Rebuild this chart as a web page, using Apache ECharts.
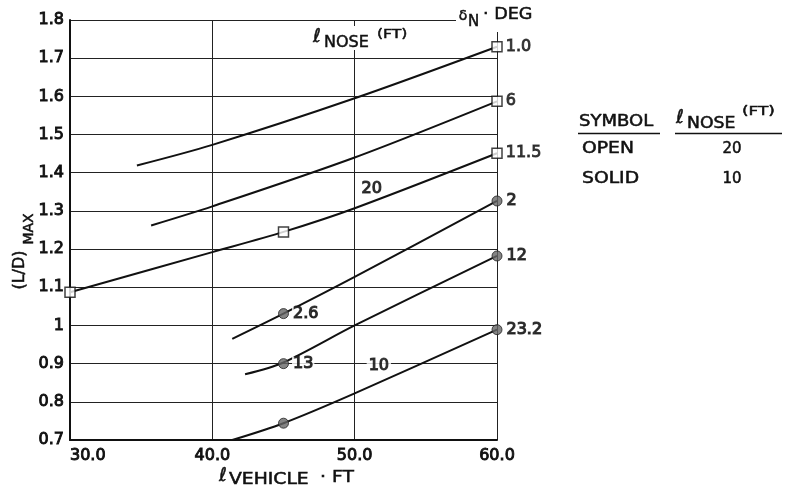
<!DOCTYPE html>
<html>
<head>
<meta charset="utf-8">
<script src="https://cdn.jsdelivr.net/npm/echarts@6.0.0/dist/echarts.min.js"></script>
<style>
  html, body { margin: 0; padding: 0; background: #fff; }
  #chart { width: 791px; height: 493px; }
</style>
</head>
<body>
<div id="chart"></div>
<script>
// (L/D)max versus vehicle length for several nose deflection angles.
// Curves: [vehicle length ft, (L/D)max]
const xTickValues = [30, 40, 50, 60];
const yRange = [0.7, 1.8];

// nose length 20 ft (open symbols)
const curveNose20Delta1 = [[34.7, 1.419], [40, 1.473], [50, 1.595], [60, 1.730]];
const curveNose20Delta6 = [[35.7, 1.262], [40, 1.312], [50, 1.440], [60, 1.587]];
const curveNose20Delta11 = [[30, 1.087], [40, 1.192], [45, 1.245], [50, 1.307], [60, 1.451]];

// nose length 10 ft (solid symbols)
const curveNose10Delta2 = [[41.4, 0.965], [45, 1.031], [50, 1.127], [60, 1.326]];
const curveNose10Delta12 = [[42.3, 0.872], [45, 0.903], [50, 1.000], [60, 1.182]];
const curveNose10Delta23 = [[41.4, 0.700], [45, 0.744], [50, 0.822], [60, 0.989]];

// symbols: [x, y, nose deflection label]
const openPoints = [[60, 1.730, '1.0'], [60, 1.587, '6'], [30, 1.087, ''], [45, 1.245, ''], [60, 1.451, '11.5']];
const solidPoints = [[45, 1.031, '2.6'], [60, 1.326, '2'], [45, 0.900, '13'], [60, 1.182, '12'], [45, 0.744, ''], [60, 0.989, '23.2']];

// nose length group labels placed on the curves
const noseGroupLabels = [[51.2, 1.359, '20'], [51.7, 0.895, '10']];

const INK = '#111';
const FONT = 'DejaVu Sans';
const HEAVY = { textBorderColor: INK, textBorderWidth: 0.9 };

const chart = echarts.init(document.getElementById('chart'), null, { renderer: 'canvas' });

function curve(data) {
  return {
    type: 'line', data: data, smooth: 0.3,
    showSymbol: false, symbol: 'none', silent: true, z: 3,
    lineStyle: { color: INK, width: 2 }
  };
}

function txt(text, x, y, size, align, sx, rot) {
  return {
    type: 'text', x: x, y: y, scaleX: sx || 1, rotation: rot || 0, z: 100,
    style: {
      text: text, font: size + 'px "' + FONT + '"', fill: INK,
      stroke: INK, lineWidth: 0.5,
      textAlign: align || 'left', textVerticalAlign: 'middle'
    }
  };
}
function rule(x1, y1, x2, y2, w) {
  return { type: 'line', z: 100, shape: { x1: x1, y1: y1, x2: x2, y2: y2 }, style: { stroke: INK, lineWidth: w || 1.5 } };
}
function cover(x, y, w, h) {
  return { type: 'rect', z: 90, shape: { x: x, y: y, width: w, height: h }, style: { fill: '#fff' } };
}

const markerLabel = Object.assign({
  show: true, position: 'right', distance: 3,
  color: INK, fontFamily: FONT, fontSize: 16,
  formatter: p => p.data[2]
}, HEAVY);

// labels sitting on grid lines get a white box and a slightly heavier stroke
const boxedLabel = { backgroundColor: '#fff', padding: [0, 1], lineHeight: 14, textBorderWidth: 1.2 };

const option = {
  animation: false,
  backgroundColor: '#fff',
  grid: { left: 70, right: 294, top: 20, bottom: 53, containLabel: false },
  xAxis: {
    type: 'value', min: xTickValues[0], max: xTickValues[xTickValues.length - 1], interval: 10,
    axisLine: { show: true, lineStyle: { color: INK, width: 2 } },
    axisTick: { show: false },
    splitLine: { show: true, lineStyle: { color: '#222', width: 1 } },
    axisLabel: Object.assign({
      color: INK, fontFamily: FONT, fontSize: 16, margin: 8,
      alignMinLabel: 'left',
      formatter: v => v.toFixed(1)
    }, HEAVY)
  },
  yAxis: {
    type: 'value', min: yRange[0], max: yRange[1], interval: 0.1,
    axisLine: { show: true, lineStyle: { color: INK, width: 2 } },
    axisTick: { show: false },
    splitLine: { show: true, lineStyle: { color: '#222', width: 1 } },
    axisLabel: Object.assign({
      color: INK, fontFamily: FONT, fontSize: 16, margin: 6,
      formatter: v => String(Math.round(v * 10) / 10)
    }, HEAVY)
  },
  series: [
    curve(curveNose20Delta1),
    curve(curveNose20Delta6),
    curve(curveNose20Delta11),
    curve(curveNose10Delta2),
    curve(curveNose10Delta12),
    curve(curveNose10Delta23),
    {
      type: 'scatter', data: openPoints, symbol: 'rect', symbolSize: 10, z: 5, silent: true,
      itemStyle: { color: '#fff', borderColor: INK, borderWidth: 1.5 },
      label: markerLabel
    },
    {
      type: 'scatter', data: solidPoints, symbol: 'circle', symbolSize: 10, z: 5, silent: true,
      itemStyle: { color: '#666', borderColor: '#222', borderWidth: 1 },
      label: Object.assign({}, markerLabel, boxedLabel)
    },
    {
      type: 'scatter', data: noseGroupLabels, symbolSize: 0, z: 6, silent: true,
      label: Object.assign({
        show: true, position: 'inside', color: INK, fontFamily: FONT, fontSize: 16,
        formatter: p => p.data[2]
      }, HEAVY, boxedLabel, { padding: [0, 2] })
    }
  ],
  graphic: [
    // nose deflection heading at the upper right corner
    cover(456, 2, 96, 30),
    txt('δ', 463, 16, 14, 'center'),
    txt('N', 468, 22, 15, 'left'),
    txt('· DEG', 483, 15, 16, 'left', 1.1),
    // nose length heading inside the plot
    cover(309, 26, 106, 24),
    txt('ℓ', 317, 37, 19, 'center'),
    txt('NOSE', 324, 43, 16, 'left'),
    txt('(FT)', 377, 35, 13, 'left', 1.2),
    // axis titles
    txt('(L/D)', 20, 270, 16, 'center', 1, Math.PI / 2),
    txt('MAX', 29, 229, 14, 'center', 1, Math.PI / 2),
    txt('ℓ', 223, 476, 19, 'center'),
    txt('VEHICLE', 229, 480, 15, 'left', 1.25),
    txt('· FT', 320, 478, 15, 'left', 1.25),
    // symbol key
    txt('SYMBOL', 579, 122, 15, 'left', 1.2),
    rule(578, 133.5, 660, 133.5),
    txt('ℓ', 680, 118, 19, 'center'),
    txt('NOSE', 687, 124, 15, 'left', 1.15),
    txt('(FT)', 742, 112, 13, 'left', 1.3),
    rule(675, 133.5, 782, 133.5),
    txt('OPEN', 582, 149, 15, 'left', 1.25),
    txt('20', 732, 149, 15, 'center'),
    txt('SOLID', 582, 179, 15, 'left', 1.25),
    txt('10', 732, 179, 15, 'center')
  ]
};

chart.setOption(option);
</script>
</body>
</html>
